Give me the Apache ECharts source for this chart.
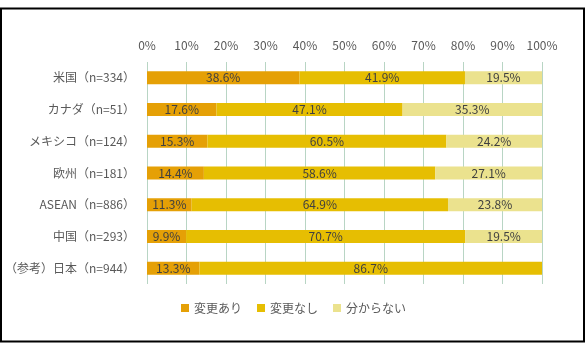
<!DOCTYPE html>
<html>
<head>
  <meta charset="utf-8">
  <title>変更の有無</title>
  <script src="https://cdn.jsdelivr.net/npm/echarts@6/dist/echarts.min.js"></script>
  <style>
    html, body { margin: 0; padding: 0; background: #ffffff; }
    #main { width: 586px; height: 350px; }
  </style>
</head>
<body>
<div id="main"></div>
<script>
  // 国・地域ごとの回答割合（%）
  var categories = ['米国（n=334）', 'カナダ（n=51）', 'メキシコ（n=124）', '欧州（n=181）', 'ASEAN（n=886）', '中国（n=293）', '（参考）日本（n=944）'];
  var seriesNames = ['変更あり', '変更なし', '分からない'];
  var changed = [38.6, 17.6, 15.3, 14.4, 11.3, 9.9, 13.3];
  var unchanged = [41.9, 47.1, 60.5, 58.6, 64.9, 70.7, 86.7];
  var unknown = [19.5, 35.3, 24.2, 27.1, 23.8, 19.5, 0];

  var colors = ['#E5A006', '#E6BE02', '#EBE28E'];
  var font = '"Noto Sans CJK JP", "Noto Sans", sans-serif';

  var myChart = echarts.init(document.getElementById('main'));

  function makeSeries(name, data, color) {
    return {
      name: name,
      type: 'bar',
      stack: 'total',
      barWidth: 13,
      data: data,
      itemStyle: { color: color },
      label: {
        show: true,
        position: 'inside',
        color: '#404040',
        fontSize: 12,
        fontFamily: font,
        formatter: function (p) { return p.value ? p.value.toFixed(1) + '%' : ''; }
      }
    };
  }

  var option = {
    animation: false,
    textStyle: { fontFamily: font },
    graphic: [{
      type: 'rect',
      shape: { x: 1, y: 8.5, width: 583, height: 333 },
      style: { fill: 'none', stroke: '#000000', lineWidth: 2 }
    }],
    legend: {
      left: 176,
      top: 297,
      itemWidth: 8,
      itemHeight: 8,
      itemGap: 15,
      icon: 'rect',
      textStyle: { color: '#595959', fontSize: 12, fontFamily: font },
      data: seriesNames
    },
    grid: { left: 147, right: 44, top: 62, height: 222 },
    xAxis: {
      type: 'value',
      position: 'top',
      min: 0,
      max: 100,
      interval: 10,
      axisLine: { show: false },
      axisTick: { show: false },
      axisLabel: { formatter: '{value}%', color: '#595959', fontSize: 12, margin: 11, fontFamily: font },
      splitLine: { lineStyle: { color: '#B8D5C4', width: 1 } }
    },
    yAxis: {
      type: 'category',
      inverse: true,
      data: categories,
      axisLine: { show: false },
      axisTick: { show: false },
      axisLabel: { color: '#595959', fontSize: 12, margin: 12, fontFamily: font }
    },
    series: [
      makeSeries(seriesNames[0], changed, colors[0]),
      makeSeries(seriesNames[1], unchanged, colors[1]),
      makeSeries(seriesNames[2], unknown, colors[2])
    ]
  };

  myChart.setOption(option);
</script>
</body>
</html>
